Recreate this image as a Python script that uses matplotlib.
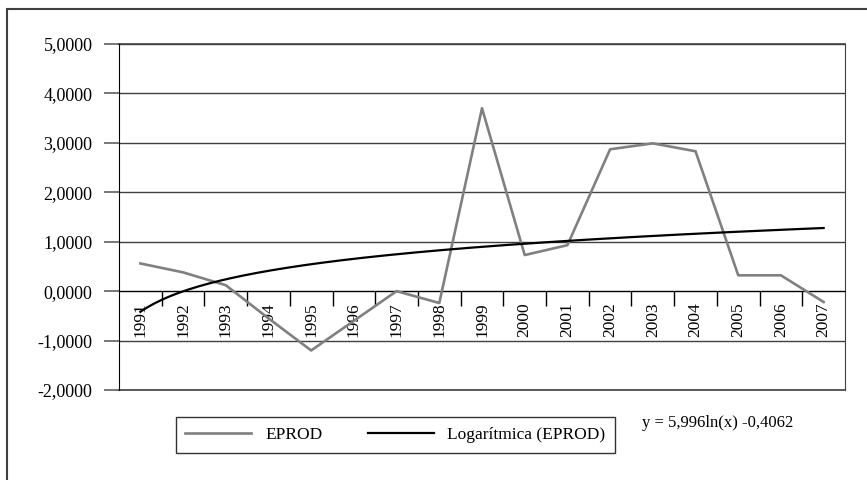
import numpy as np
import matplotlib
matplotlib.use("Agg")
import matplotlib.pyplot as plt
from matplotlib.patches import Rectangle
from matplotlib.ticker import FuncFormatter, FixedLocator

# Dados da série EPROD
anos = ['1991', '1992', '1993', '1994', '1995', '1996', '1997', '1998', '1999',
        '2000', '2001', '2002', '2003', '2004', '2005', '2006', '2007']
eprod = [0.56, 0.38, 0.12, -0.55, -1.20, -0.60, 0.00, -0.24, 3.70,
         0.73, 0.93, 2.87, 2.99, 2.83, 0.32, 0.32, -0.22]
rotulo_eq = 'y = 5,996ln(x) -0,4062'

plt.rcParams['font.family'] = ['Liberation Serif', 'DejaVu Serif']

fig = plt.figure(figsize=(8.67, 4.8), dpi=100)
ax = fig.add_axes([119 / 867, 1 - 390 / 480, (845 - 119) / 867, (390 - 44) / 480])

x = np.arange(len(anos))
# Linha de tendência logarítmica (ajuste aos dados)
a, b = np.polyfit(np.log(x + 1), eprod, 1)
xs = np.linspace(0, len(anos) - 1, 200)
tend = a * np.log(xs + 1) + b

ax.plot(x, eprod, color='#808080', lw=1.9, label='EPROD', zorder=3)
ax.plot(xs, tend, color='black', lw=1.6, label='Logarítmica (EPROD)', zorder=4)

ax.set_xlim(-0.5, len(anos) - 0.5)
ax.set_ylim(-2, 5)
ax.set_yticks(np.arange(-2, 6, 1))
ax.yaxis.set_major_formatter(FuncFormatter(lambda v, p: f'{v:.4f}'.replace('.', ',')))
ax.grid(axis='y', color='#404040', lw=1)
ax.axhline(-2, color='#404040', lw=1.2, clip_on=False)
ax.axhline(5, color='#404040', lw=1.2, clip_on=False)
ax.set_axisbelow(True)

# eixo das categorias em y = 0
ax.spines['bottom'].set_position(('data', 0))
ax.spines['bottom'].set_color('black')
ax.spines['top'].set_visible(False)
ax.spines['left'].set_color('black')
ax.spines['right'].set_color('#404040')
ax.set_xticks(x)
ax.set_xticklabels(anos, rotation=90, va='top', ha='center')
ax.xaxis.set_minor_locator(FixedLocator(np.arange(0.5, len(anos) - 0.5, 1)))
ax.tick_params(axis='x', which='major', length=0, pad=8, labelsize=12.5)
ax.tick_params(axis='x', which='minor', length=11, direction='out', color='black', width=1)
ax.tick_params(axis='y', length=11, direction='out', color='#606060', width=1.2, pad=8, labelsize=13)

# moldura externa
fig.patches.append(Rectangle((7 / 867, -0.1), 1.1, 1.1 - 9 / 480,
                             transform=fig.transFigure, fill=False,
                             edgecolor='#404040', lw=1.5, clip_on=False))

leg = fig.legend(loc='center', bbox_to_anchor=((177 + 614) / 2 / 867, 1 - 435 / 480),
                 ncol=2, fontsize=12.5, frameon=True, fancybox=False, edgecolor='black',
                 handlelength=3.8, handletextpad=0.8, columnspacing=2.6, borderpad=0.55,
                 borderaxespad=0)
leg.get_frame().set_linewidth(1)

fig.text(642 / 867, 1 - 423 / 480, rotulo_eq, fontsize=12, va='center', ha='left')

fig.savefig('out.png', dpi=100)
